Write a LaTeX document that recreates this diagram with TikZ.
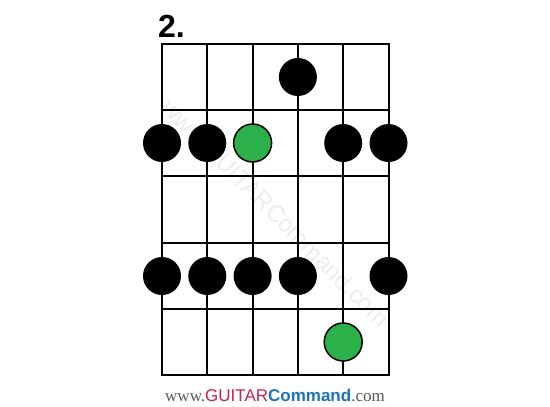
\documentclass[tikz,border=0pt]{standalone}
\usepackage{fontspec}
\setmainfont{Liberation Serif}
\setsansfont{Liberation Sans}
\definecolor{notegreen}{HTML}{2BB04A}
\definecolor{gcred}{HTML}{C42350}
\definecolor{gcblue}{HTML}{1B75BC}
\tikzset{%
    dot/.style={inner sep=0pt,circle,fill=black,minimum size=38pt},
    root/.style={dot,fill=notegreen,draw=black,line width=1.5pt}
}

\begin{document}
\begin{tikzpicture}[
                x=1pt,y=-1pt,
                fret/.style={line width=2pt,line cap=rect}
            ]
            \useasboundingbox[fill=white] (0,0) rectangle (550,407);
            % watermark
            \node[rotate=-45,text=black!7,font=\sffamily\fontsize{24}{24}\selectfont] (wm) at (276,213) {www.GUITARCommand.com};
            % strings and frets
            \foreach \s in {0,...,5}
                \draw[fret] (162+45.3*\s,44) -- (162+45.3*\s,375);
            \foreach \f in {0,...,5}
                \draw[fret] (162,44+66.2*\f) -- (388.5,44+66.2*\f);
            \node[anchor=south west,inner sep=0pt,font=\sffamily\bfseries\fontsize{32}{32}\selectfont] (num) at (158,38) {2.};

            \node[dot] (a4) at (297.9,77){};
            \node[dot] (b1) at (162,143){};
            \node[dot] (b2) at (207.3,143){};
            \node[root] (b3) at (252.6,143){};
            \node[dot] (b5) at (343.2,143){};
            \node[dot] (b6) at (388.5,143){};
            \node[dot] (d1) at (162,276){};
            \node[dot] (d2) at (207.3,276){};
            \node[dot] (d3) at (252.6,276){};
            \node[dot] (d4) at (297.9,276){};
            \node[dot] (d6) at (388.5,276){};
            \node[root] (e5) at (343.2,342){};

            \node[inner sep=0pt,font=\fontsize{17}{17}\selectfont] (site) at (275,395)
                {\textcolor{black!65}{www.}\textcolor{gcred}{\sffamily GUITAR}\textcolor{gcblue}{\sffamily\bfseries Command}\textcolor{black!65}{.com}};
        \end{tikzpicture}
\end{document}
